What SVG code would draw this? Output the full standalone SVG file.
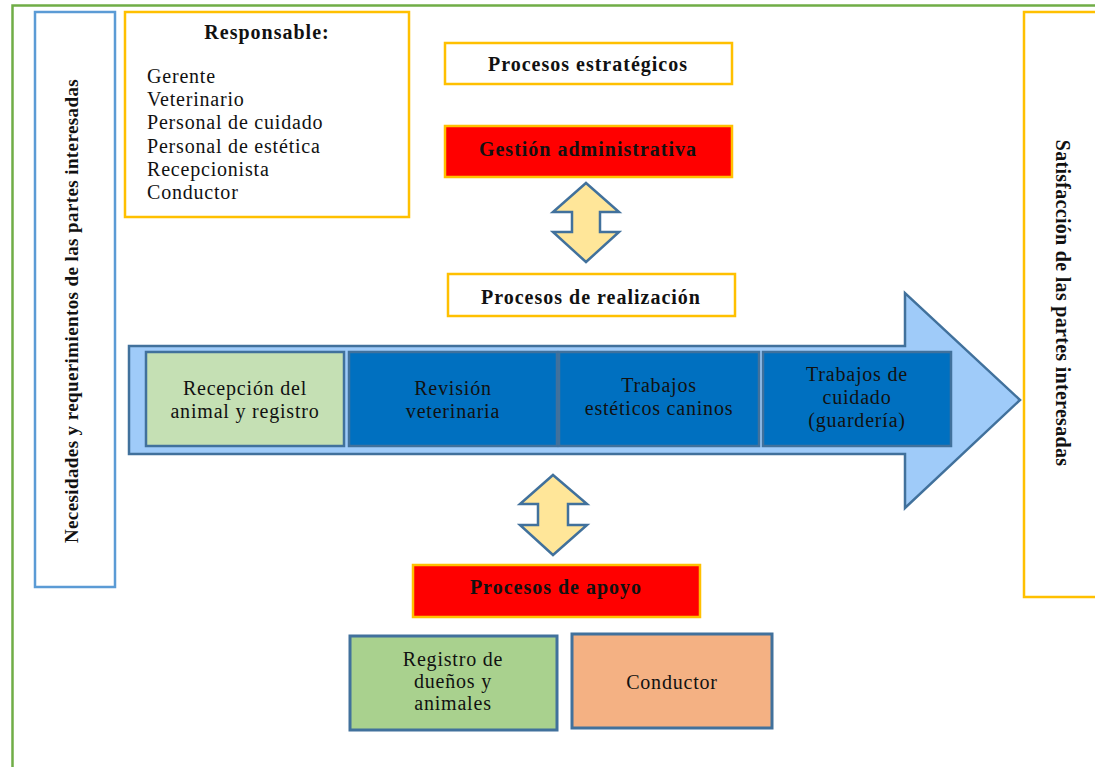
<svg xmlns="http://www.w3.org/2000/svg" width="1095" height="767" viewBox="0 0 1095 767">
<style>
text{font-family:"Liberation Serif","Times New Roman",serif;fill:#111;}
.b{font-weight:bold;font-size:20px;letter-spacing:1px;}
.r{font-size:20px;letter-spacing:0.8px;}
.c{text-anchor:middle;}
.ob{fill:#fff;stroke:#FFC000;stroke-width:2.5;}
.rb{fill:#FF0000;stroke:#FFC000;stroke-width:2.5;}
.dbl{fill:#FFE699;stroke:#41719C;stroke-width:2.5;stroke-linejoin:miter;}
.step{stroke:#41719C;stroke-width:2.5;}
</style>
<rect x="0" y="0" width="1095" height="767" fill="#fff"/>
<g id="frame">
<path d="M12.5,767 V5.5 H1095" fill="none" stroke="#70AD47" stroke-width="2.5"/>
</g>
<g id="necesidades">
<rect x="35" y="12" width="80" height="575" fill="#fff" stroke="#5B9BD5" stroke-width="2.5"/>
<text class="c" font-weight="bold" font-size="19" letter-spacing="0.4" transform="translate(78,311) rotate(-90)">Necesidades y requerimientos de las partes interesadas</text>
</g>
<g id="satisfaccion">
<rect x="1024" y="12" width="80" height="585" class="ob"/>
<text class="c" font-weight="bold" font-size="20" letter-spacing="0.3" transform="translate(1056,303) rotate(90)">Satisfacción de las partes interesadas</text>
</g>
<g id="responsable">
<rect x="125" y="12" width="284" height="205" class="ob"/>
<text class="b c" x="267" y="39">Responsable:</text>
<text class="r" x="147" y="83">Gerente</text>
<text class="r" x="147" y="106">Veterinario</text>
<text class="r" x="147" y="129">Personal de cuidado</text>
<text class="r" x="147" y="153">Personal de estética</text>
<text class="r" x="147" y="176">Recepcionista</text>
<text class="r" x="147" y="199">Conductor</text>
</g>
<g id="estrategicos">
<rect x="445" y="43" width="287" height="41" class="ob"/>
<text class="b c" x="588" y="71">Procesos estratégicos</text>
</g>
<g id="gestion">
<rect x="445" y="126" width="287" height="51" class="rb"/>
<text class="b c" x="588" y="156">Gestión administrativa</text>
</g>
<g id="realizacion">
<rect x="448" y="274" width="287" height="42" class="ob"/>
<text class="b c" x="591" y="304">Procesos de realización</text>
</g>
<g id="flecha">
<path d="M129,346 H905 V293 L1020,400 L905,508 V454 H129 Z" fill="#9FCBF9" stroke="#41719C" stroke-width="2.5"/>
</g>
<g id="recepcion">
<rect x="146" y="352" width="198" height="94" fill="#C5E0B4" class="step"/>
<text class="r c" x="245" y="395">Recepción del</text>
<text class="r c" x="245" y="418">animal y registro</text>
</g>
<g id="revision">
<rect x="349" y="352" width="208" height="94" fill="#0070C0" class="step"/>
<text class="r c" x="453" y="395">Revisión</text>
<text class="r c" x="453" y="418">veterinaria</text>
</g>
<g id="esteticos">
<rect x="559" y="352" width="200" height="94" fill="#0070C0" class="step"/>
<text class="r c" x="659" y="392">Trabajos</text>
<text class="r c" x="659" y="415">estéticos caninos</text>
</g>
<g id="cuidado">
<rect x="763" y="352" width="188" height="94" fill="#0070C0" class="step"/>
<text class="r c" x="857" y="381">Trabajos de</text>
<text class="r c" x="857" y="404">cuidado</text>
<text class="r c" x="857" y="427">(guardería)</text>
</g>
<g id="connectors">
<path class="dbl" d="M586,183 L619,212 H600 V232 H619 L586,262 L553,232 H572 V212 H553 Z"/>
<path class="dbl" d="M553,475 L587,504 H568 V525 H587 L553,555 L520,525 H538 V504 H520 Z"/>
</g>
<g id="apoyo">
<rect x="413" y="565" width="287" height="52" class="rb"/>
<text class="b c" x="556" y="594">Procesos de apoyo</text>
</g>
<g id="registro">
<rect x="350" y="636" width="207" height="94" fill="#A9D18E" stroke="#41719C" stroke-width="3"/>
<text class="r c" x="453" y="666">Registro de</text>
<text class="r c" x="453" y="688">dueños y</text>
<text class="r c" x="453" y="710">animales</text>
</g>
<g id="conductor">
<rect x="572" y="634" width="200" height="94" fill="#F4B183" stroke="#41719C" stroke-width="3"/>
<text class="r c" x="672" y="689">Conductor</text>
</g>
</svg>
